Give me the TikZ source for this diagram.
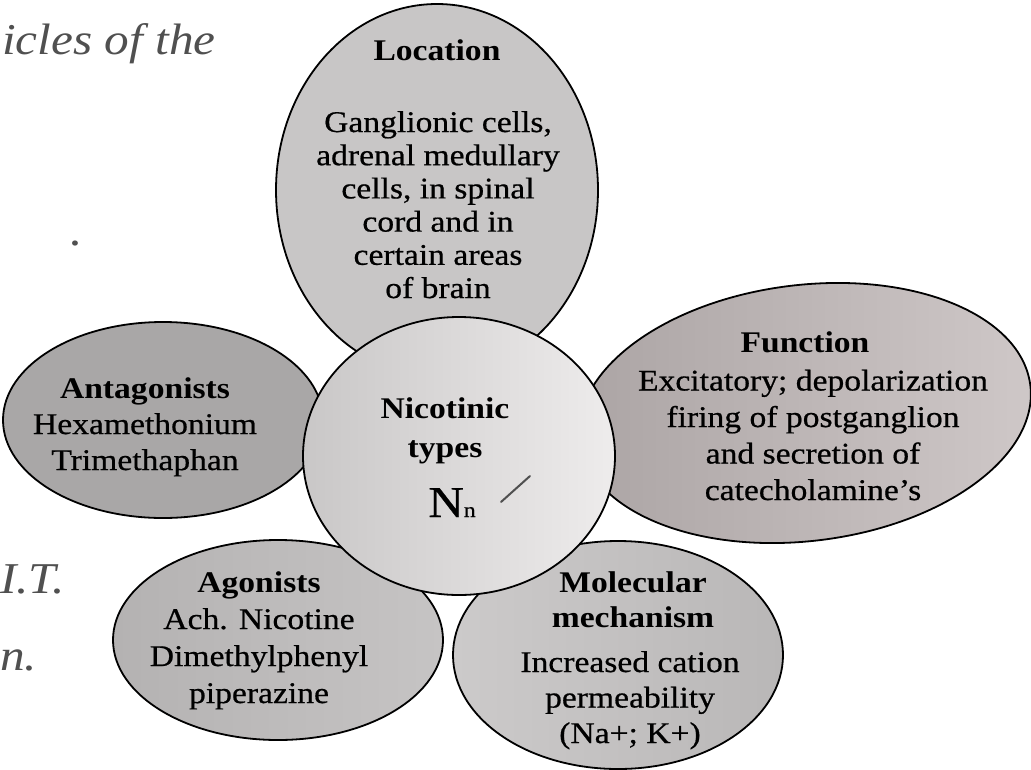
\documentclass[tikz,border=0pt]{standalone}
\usepackage{fontspec}
\setmainfont{Liberation Serif}[FakeStretch=1.12, UprightFeatures={FakeBold=0.6}]
\usetikzlibrary{shapes.geometric}
\definecolor{cLoc}{HTML}{C8C6C6}
\definecolor{cFunL}{HTML}{ABA4A4}
\definecolor{cFunR}{HTML}{CFC8C8}
\definecolor{cAnt}{HTML}{A9A7A7}
\definecolor{cAgoL}{HTML}{B4B2B2}
\definecolor{cAgoR}{HTML}{C6C4C4}
\definecolor{cMolL}{HTML}{CCCACA}
\definecolor{cMolR}{HTML}{B9B7B7}
\definecolor{cCenL}{HTML}{C9C7C7}
\definecolor{cCenR}{HTML}{EEECEC}
\definecolor{hand}{HTML}{505050}
\begin{document}
\begin{tikzpicture}[x=1pt,y=-1pt,
  petal/.style={ellipse, draw=black, line width=1.8pt, inner sep=0pt},
  txt/.style={font=\fontsize{30}{35}\selectfont, align=center, inner sep=0pt, anchor=base},
  handtxt/.style={font=\itshape\fontsize{44}{46}\selectfont, text=hand, inner sep=0pt, anchor=base west}]
\useasboundingbox (0,0) rectangle (1031,769);
% petals
\node[petal, fill=cLoc, minimum width=322pt, minimum height=372pt] (loc) at (437,190) {};
\node[petal, left color=cFunL, right color=cFunR, minimum width=454pt, minimum height=256pt, rotate=7] (fun) at (805,413) {};
\node[petal, fill=cAnt, minimum width=320pt, minimum height=196pt] (ant) at (163,420) {};
\node[petal, left color=cAgoL, right color=cAgoR, minimum width=330pt, minimum height=200pt] (ago) at (278,640) {};
\node[petal, left color=cMolL, right color=cMolR, minimum width=330pt, minimum height=228pt] (mol) at (618,655) {};
% centre
\node[petal, left color=cCenL, right color=cCenR, minimum width=312pt, minimum height=278pt] (cen) at (459,456) {};
% texts (anchor base = baseline of the last line)
\node[txt] (locH) at (437,60) {\bfseries Location};
\node[txt, font=\fontsize{30}{33.2}\selectfont] (locB) at (438,298) {Ganglionic cells,\\adrenal medullary\\cells, in spinal\\cord and in\\certain areas\\of brain};
\node[txt] (funH) at (805,352) {\bfseries Function};
\node[txt, font=\fontsize{30}{36.5}\selectfont] (funB) at (813,500) {Excitatory; depolarization\\firing of postganglion\\and secretion of\\catecholamine’s};
\node[txt, font=\fontsize{30}{36}\selectfont] (antT) at (145,470) {\textbf{Antagonists}\\Hexamethonium\\Trimethaphan};
\node[txt, font=\fontsize{30}{37}\selectfont] (agoT) at (259,703) {\textbf{Agonists}\\Ach. Nicotine\\Dimethylphenyl\\piperazine};
\node[txt, font=\bfseries\fontsize{30}{35}\selectfont] (molH) at (633,627) {Molecular\\mechanism};
\node[txt, font=\fontsize{30}{35.5}\selectfont] (molB) at (630,743) {Increased cation\\permeability\\(Na+; K+)};
\node[txt, font=\bfseries\fontsize{30}{39}\selectfont] (cenT) at (445,457) {Nicotinic\\types};
\node[txt, font=\fontsize{44}{44}\selectfont] (cenN) at (452,517) {N{\fontsize{21}{21}\selectfont n}};
% handwriting
\node[handtxt] (h1) at (2,54) {icles of the};
\node[handtxt] (h2) at (70,245) {.};
\node[handtxt] (h3) at (0,593) {I.T.};
\node[handtxt] (h4) at (0,670) {n.};
\coordinate (m1) at (501,502);
\coordinate (m2) at (530,476);
\draw[line width=2pt, hand, line cap=round] (m1) -- (m2);
\end{tikzpicture}
\end{document}
